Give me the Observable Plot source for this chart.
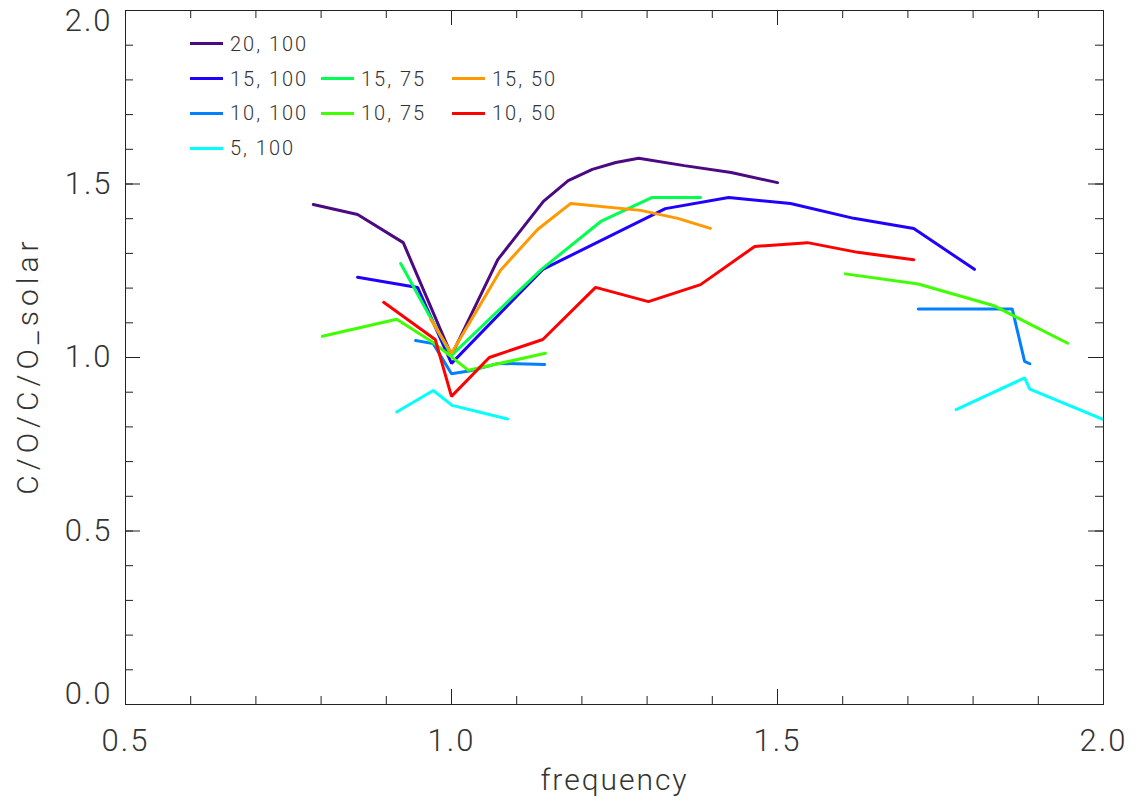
<!DOCTYPE html>
<html><head><meta charset="utf-8">
<script src="https://cdn.jsdelivr.net/npm/d3@7"></script>
<script src="https://cdn.jsdelivr.net/npm/@observablehq/plot@0.6"></script>
<style>
body{margin:0;background:#fff;}
#wrap{position:relative;width:1139px;height:804px;}
#legend{position:absolute;left:190px;top:26.6px;display:grid;grid-template-columns:131px 131px 131px;grid-auto-rows:34.7px;font-family:Roboto,"DejaVu Sans",sans-serif;font-weight:300;font-size:20px;letter-spacing:2px;color:#333;}
.item{display:flex;align-items:center;white-space:nowrap;}
.swatch{width:33px;height:3px;margin-right:7px;}
</style></head><body><div id="wrap"><div id="legend"></div></div>
<script>
// series names and colours
const seriesNames = ["20, 100","15, 100","15, 75","15, 50","10, 100","10, 75","10, 50","5, 100"];
const seriesColors = ["#4b0a82","#2000ff","#00ff50","#ff9900","#0080ff","#40ff00","#ff0000","#00ffff"];

// values (null separates disconnected segments)
const x_20_100 = [0.788,0.856,0.926,1.0,1.071,1.141,1.179,1.216,1.252,1.287,1.357,1.429,1.5];
const y_20_100 = [1.441,1.412,1.331,1.006,1.282,1.450,1.510,1.542,1.562,1.574,1.553,1.533,1.504];

const x_15_100 = [0.856,0.948,1.0,1.140,1.328,1.425,1.520,1.617,1.709,1.802];
const y_15_100 = [1.231,1.202,0.983,1.254,1.429,1.461,1.444,1.401,1.372,1.254];

const x_15_75 = [0.922,1.0,1.138,1.229,1.307,1.382];
const y_15_75 = [1.271,1.006,1.254,1.392,1.461,1.461];

const x_15_50 = [0.968,1.0,1.075,1.132,1.183,1.290,1.347,1.397];
const y_15_50 = [1.110,1.012,1.251,1.369,1.444,1.424,1.401,1.372];

const x_10_100 = [0.945,0.972,1.0,1.029,1.072,1.143,null,1.716,1.860,1.879,1.887];
const y_10_100 = [1.049,1.040,0.953,0.962,0.983,0.980,null,1.140,1.140,0.989,0.982];

const x_10_75 = [0.802,0.916,0.972,1.0,1.026,1.144,null,1.604,1.716,1.831,1.945];
const y_10_75 = [1.061,1.110,1.043,1.002,0.963,1.012,null,1.241,1.212,1.150,1.041];

const x_10_50 = [0.896,0.975,1.0,1.058,1.140,1.221,1.302,1.382,1.465,1.546,1.623,1.709];
const y_10_50 = [1.159,1.052,0.888,1.0,1.052,1.202,1.161,1.210,1.320,1.331,1.303,1.282];

const x_5_100 = [0.916,0.972,1.001,1.086,null,1.774,1.879,1.887,2.0];
const y_5_100 = [0.843,0.905,0.862,0.823,null,0.850,0.941,0.909,0.821];

// axis ticks
const xMajor = [0.5,1.0,1.5,2.0];
const xMinor = d3.range(5,21).map(i => i/10);
const yMajor = [0.0,0.5,1.0,1.5,2.0];
const yMinor = d3.range(0,21).map(i => i/10);
const xLabel = "frequency";
const yLabel = "C/O/C/O_solar";

const seriesX = [x_20_100,x_15_100,x_15_75,x_15_50,x_10_100,x_10_75,x_10_50,x_5_100];
const seriesY = [y_20_100,y_15_100,y_15_75,y_15_50,y_10_100,y_10_75,y_10_50,y_5_100];

const rows = [];
seriesNames.forEach((name, i) => {
  seriesX[i].forEach((x, j) => {
    const y = seriesY[i][j];
    rows.push({series: name, x: x == null ? NaN : x, y: y == null ? NaN : y});
  });
});

const W = 1139, H = 804, mL = 125, mR = 36, mT = 10, mB = 100;
const fw = W - mL - mR, fh = H - mT - mB;
const majLen = 15, minLen = 8;
const ink = "#222";

const plot = Plot.plot({
  width: W, height: H,
  marginLeft: mL, marginRight: mR, marginTop: mT, marginBottom: mB,
  style: {fontFamily: 'Roboto, "DejaVu Sans", sans-serif', fontWeight: 300, color: "#333", background: "#fff", letterSpacing: "2px"},
  x: {domain: [0.5, 2.0]},
  y: {domain: [0, 2.0]},
  color: {domain: seriesNames, range: seriesColors},
  marks: [
    Plot.line(rows, {x: "x", y: "y", z: "series", stroke: "series", strokeWidth: 3, clip: true, strokeLinejoin: "miter"}),
    Plot.frame({stroke: ink, strokeWidth: 1}),
    // bottom & top ticks
    Plot.tickX(xMinor, {x: d => d, insetTop: fh - minLen, stroke: ink}),
    Plot.tickX(xMajor, {x: d => d, insetTop: fh - majLen, stroke: ink}),
    Plot.tickX(xMinor, {x: d => d, insetBottom: fh - minLen, stroke: ink}),
    Plot.tickX(xMajor, {x: d => d, insetBottom: fh - majLen, stroke: ink}),
    // left & right ticks
    Plot.tickY(yMinor, {y: d => d, insetRight: fw - minLen, stroke: ink}),
    Plot.tickY(yMajor, {y: d => d, insetRight: fw - majLen, stroke: ink}),
    Plot.tickY(yMinor, {y: d => d, insetLeft: fw - minLen, stroke: ink}),
    Plot.tickY(yMajor, {y: d => d, insetLeft: fw - majLen, stroke: ink}),
    Plot.axisX({ticks: xMajor, tickSize: 0, tickPadding: 24, tickFormat: d3.format(".1f"), fontSize: 31, label: null}),
    Plot.axisY({ticks: [0.5, 1.0, 1.5], tickSize: 0, tickPadding: 13, tickFormat: d3.format(".1f"), fontSize: 31, label: null}),
    Plot.axisY({ticks: [0.0], tickSize: 0, tickPadding: 13, tickFormat: d3.format(".1f"), fontSize: 31, label: null, dy: -10}),
    Plot.axisY({ticks: [2.0], tickSize: 0, tickPadding: 13, tickFormat: d3.format(".1f"), fontSize: 31, label: null, dy: 11}),
    Plot.text([xLabel], {frameAnchor: "bottom", text: d => d, dy: 85, lineAnchor: "bottom", textAnchor: "middle", fontSize: 30}),
    Plot.text([yLabel], {frameAnchor: "left", text: d => d, rotate: -90, dx: -88, dy: 8, lineAnchor: "bottom", textAnchor: "middle", fontSize: 30})
  ]
});
d3.select(plot).selectAll("text").filter(function(){ return this.textContent === yLabel; }).attr("letter-spacing", "5px");
document.getElementById("wrap").prepend(plot);

// legend
const legendCells = [[1,1],[2,1],[2,2],[2,3],[3,1],[3,2],[3,3],[4,1]];
const legend = document.getElementById("legend");
seriesNames.forEach((name, i) => {
  const item = document.createElement("div");
  item.className = "item";
  item.style.gridRow = legendCells[i][0];
  item.style.gridColumn = legendCells[i][1];
  const sw = document.createElement("span");
  sw.className = "swatch";
  sw.style.background = seriesColors[i];
  const t = document.createElement("span");
  t.textContent = name;
  item.appendChild(sw); item.appendChild(t);
  legend.appendChild(item);
});
</script>
</body></html>
